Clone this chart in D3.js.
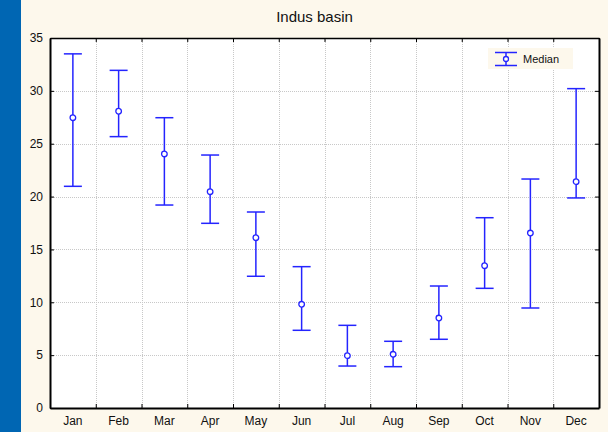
<!DOCTYPE html>
<html>
<head>
<meta charset="utf-8">
<script src="https://cdn.jsdelivr.net/npm/d3@7"></script>
<style>
  body { margin: 0; background: #fdf8ec; }
  svg { display: block; font-family: "Liberation Sans", Arial, sans-serif; }
</style>
</head>
<body>
<div id="chart"></div>
<script>
var months = ["Jan", "Feb", "Mar", "Apr", "May", "Jun", "Jul", "Aug", "Sep", "Oct", "Nov", "Dec"];
var medians = [27.46, 28.07, 24.03, 20.46, 16.11, 9.81, 4.95, 5.08, 8.51, 13.46, 16.55, 21.41];
var highs = [33.5, 31.94, 27.46, 23.93, 18.54, 13.37, 7.82, 6.31, 11.54, 18.0, 21.66, 30.21];
var lows = [20.97, 25.67, 19.2, 17.47, 12.46, 7.35, 3.97, 3.91, 6.5, 11.32, 9.46, 19.87];
var yTicks = [0, 5, 10, 15, 20, 25, 30, 35];

var data = months.map(function(m, i) {
    return {month: m, med: medians[i], hi: highs[i], lo: lows[i]};
});

var W = 608, H = 432;
var margin = {top: 38, right: 9, bottom: 24, left: 50};
var width = W - margin.left - margin.right;
var height = H - margin.top - margin.bottom;
var blue = "#2424ff";

var root = d3.select("#chart").append("svg")
    .attr("width", W)
    .attr("height", H);

root.append("rect").attr("width", W).attr("height", H).attr("fill", "#fdf8ec");
root.append("rect").attr("width", 21).attr("height", H).attr("fill", "#0066b3");

root.append("text")
    .attr("x", 314.5)
    .attr("y", 22)
    .attr("text-anchor", "middle")
    .style("font-size", "15px")
    .attr("fill", "#111")
    .text("Indus basin");

var svg = root.append("g")
    .attr("transform", "translate(" + margin.left + "," + margin.top + ")");

var x = d3.scaleBand().domain(months).range([0, width]);
var y = d3.scaleLinear().domain([0, 35]).range([height, 0]);

svg.append("rect").attr("width", width).attr("height", height).attr("fill", "#fff");

// grid
svg.append("g").selectAll("line")
    .data(months.slice(1))
    .enter().append("line")
    .attr("x1", function(d) { return Math.round(x(d)) + 0.5; })
    .attr("x2", function(d) { return Math.round(x(d)) + 0.5; })
    .attr("y1", 0).attr("y2", height)
    .attr("stroke", "#c8c8c8")
    .attr("stroke-dasharray", "1,1");
svg.append("g").selectAll("line")
    .data(yTicks.slice(1, -1))
    .enter().append("line")
    .attr("y1", function(d) { return Math.round(y(d)) + 0.5; })
    .attr("y2", function(d) { return Math.round(y(d)) + 0.5; })
    .attr("x1", 0).attr("x2", width)
    .attr("stroke", "#c8c8c8")
    .attr("stroke-dasharray", "1,1");

// axes
var bounds = x.domain().map(function(d) { return x(d); }).concat([width]);
var xTickScale = d3.scaleLinear().domain([0, width]).range([0, width]);

var xb = svg.append("g")
    .attr("transform", "translate(0," + height + ")")
    .call(d3.axisBottom(xTickScale).tickValues(bounds).tickSizeInner(-4).tickSizeOuter(0).tickFormat(""));
xb.select(".domain").attr("stroke-width", 2);
var xt = svg.append("g")
    .call(d3.axisTop(xTickScale).tickValues(bounds).tickSizeInner(-4).tickSizeOuter(0).tickFormat(""));
xt.select(".domain").attr("stroke-width", 1.5);

var yl = svg.append("g")
    .call(d3.axisLeft(y).tickValues(yTicks).tickSizeInner(-4).tickSizeOuter(0).tickPadding(7));
yl.select(".domain").attr("stroke-width", 2);
var yr = svg.append("g")
    .attr("transform", "translate(" + width + ",0)")
    .call(d3.axisRight(y).tickValues(yTicks).tickSizeInner(-4).tickSizeOuter(0).tickFormat(""));
yr.select(".domain").attr("stroke-width", 2);

svg.selectAll(".tick text").style("font-size", "12px").attr("fill", "#111");

svg.append("g")
    .selectAll("text")
    .data(months)
    .enter().append("text")
    .attr("x", function(d) { return x(d) + x.bandwidth() / 2; })
    .attr("y", height + 17)
    .attr("text-anchor", "middle")
    .style("font-size", "12px")
    .attr("fill", "#111")
    .text(function(d) { return d; });

// error bars
var cap = 9;
var bars = svg.append("g").selectAll("g")
    .data(data)
    .enter().append("g")
    .attr("transform", function(d) { return "translate(" + (x(d.month) + x.bandwidth() / 2) + ",0)"; });

bars.append("line")
    .attr("y1", function(d) { return y(d.hi); })
    .attr("y2", function(d) { return y(d.lo); })
    .attr("stroke", blue).attr("stroke-width", 1.5);
bars.append("line")
    .attr("x1", -cap).attr("x2", cap)
    .attr("y1", function(d) { return y(d.hi); })
    .attr("y2", function(d) { return y(d.hi); })
    .attr("stroke", blue).attr("stroke-width", 1.5);
bars.append("line")
    .attr("x1", -cap).attr("x2", cap)
    .attr("y1", function(d) { return y(d.lo); })
    .attr("y2", function(d) { return y(d.lo); })
    .attr("stroke", blue).attr("stroke-width", 1.5);
bars.append("circle")
    .attr("cy", function(d) { return y(d.med); })
    .attr("r", 2.8)
    .attr("fill", "#fff")
    .attr("stroke", blue).attr("stroke-width", 1.3);

// legend
var lg = root.append("g").attr("transform", "translate(488,48)");
lg.append("rect").attr("width", 85).attr("height", 21).attr("fill", "#fdf8ec");
lg.append("line").attr("x1", 18).attr("x2", 18).attr("y1", 4.5).attr("y2", 17.5).attr("stroke", blue).attr("stroke-width", 1.5);
lg.append("line").attr("x1", 7).attr("x2", 29).attr("y1", 4.5).attr("y2", 4.5).attr("stroke", blue).attr("stroke-width", 1.5);
lg.append("line").attr("x1", 7).attr("x2", 29).attr("y1", 17.5).attr("y2", 17.5).attr("stroke", blue).attr("stroke-width", 1.5);
lg.append("circle").attr("cx", 18).attr("cy", 11).attr("r", 2.5).attr("fill", "#fff").attr("stroke", blue).attr("stroke-width", 1.3);
lg.append("text").attr("x", 35).attr("y", 15).style("font-size", "11px").attr("fill", "#111").text("Median");
</script>
</body>
</html>
